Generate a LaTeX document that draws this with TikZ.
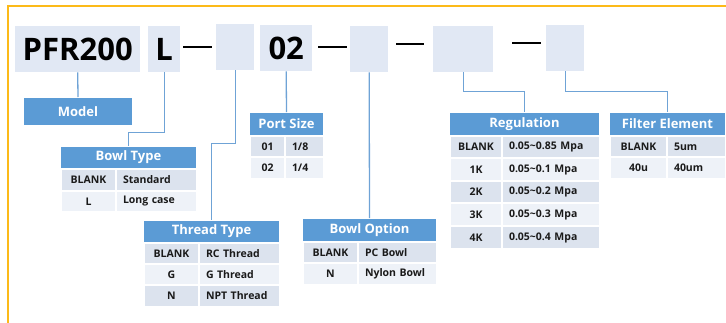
\documentclass[tikz,border=0pt]{standalone}
\usepackage{fontspec}
\setmainfont{Open Sans}
\definecolor{boxfill}{HTML}{E1E8F4}
\definecolor{hdrblue}{HTML}{5B9BD5}
\definecolor{rowdark}{HTML}{DCE3EE}
\definecolor{rowlight}{HTML}{EEF2F8}
\definecolor{linkblue}{HTML}{6FA3D6}
\definecolor{frameor}{rgb}{0.99,0.73,0.10}
\definecolor{txt}{HTML}{1A1A1A}
\tikzset{
  codebox/.style={fill=boxfill, inner sep=0pt, anchor=north west, font=\fontsize{31}{31}\selectfont\bfseries, text=black},
  hdr/.style={fill=hdrblue, draw=white, line width=1pt, inner sep=0pt, anchor=north west, font=\fontsize{13}{13}\selectfont\bfseries, text=white},
  cell/.style={draw=white, line width=2pt, inner sep=0pt, anchor=north west, font=\fontsize{10.5}{10.5}\selectfont\bfseries, text=txt},
  link/.style={draw=linkblue, line width=1.3pt},
  dashln/.style={draw=black, line width=2.3pt},
  framestyle/.style={draw=frameor, line width=2pt},
}
\newcommand\trow[9]{%
  \pgfmathsetmacro\cwa{#3-#2}%
  \pgfmathsetmacro\cwb{#4-#3}%
  \pgfmathsetmacro\cwt{#4-#3-14}%
  \pgfmathsetmacro\cht{#6-#5}%
  \node[cell, fill=#7, minimum width=\cwa pt, minimum height=\cht pt] (#1a) at (#2,#5) {#8};
  \node[cell, fill=#7, minimum width=\cwb pt, minimum height=\cht pt, text width=\cwt pt, inner xsep=7pt, align=left] (#1b) at (#3,#5) {#9};
}
\newcommand\thdr[6]{%
  \pgfmathsetmacro\cwa{#3-#2}%
  \pgfmathsetmacro\cht{#5-#4}%
  \node[hdr, minimum width=\cwa pt, minimum height=\cht pt] (#1) at (#2,#4) {#6};
}
\begin{document}
\begin{tikzpicture}[x=1pt,y=-1pt]
\useasboundingbox (0,0) rectangle (726,322);
% frame
\draw[framestyle] (7.5,323) -- (7.5,5.5) -- (727,5.5);
% top code boxes
\node[codebox, minimum width=125pt, minimum height=46pt] (pfr) at (15,26) {PFR200};
\node[codebox, minimum width=32pt, minimum height=46pt] (lbox) at (148,26) {L};
\node[codebox, minimum width=38pt, minimum height=46pt] (bl1) at (216,24) {};
\node[codebox, minimum width=52pt, minimum height=46pt] (port) at (260,25) {02};
\node[codebox, minimum width=38pt, minimum height=46pt] (bl2) at (350,26) {};
\node[codebox, minimum width=60pt, minimum height=46pt] (bl3) at (433,26) {};
\node[codebox, minimum width=38pt, minimum height=46pt] (bl4) at (546,25) {};
% dashes
\draw[dashln] (183,47) -- (212,47);
\draw[dashln] (318,47) -- (347,47);
\draw[dashln] (396,44) -- (424,44);
\draw[dashln] (512,43) -- (541,43);
% Model
\thdr{model}{23}{132}{97}{125}{Model}
% Bowl Type
\thdr{bowlT}{60}{196}{146}{168}{Bowl Type}
\trow{btA}{60}{115}{196}{168}{190}{rowdark}{BLANK}{Standard}
\trow{btB}{60}{115}{196}{190}{211}{rowlight}{L}{Long case}
% Thread Type
\thdr{thrT}{143}{279}{220}{242}{Thread Type}
\trow{ttA}{143}{198}{279}{242}{263}{rowdark}{BLANK}{RC Thread}
\trow{ttB}{143}{198}{279}{263}{284}{rowlight}{G}{G Thread}
\trow{ttC}{143}{198}{279}{284}{306}{rowdark}{N}{NPT Thread}
% Port Size
\thdr{portT}{249}{323}{112}{135}{Port Size}
\trow{psA}{249}{284}{323}{135}{156}{rowdark}{01}{1/8}
\trow{psB}{249}{284}{323}{156}{178}{rowlight}{02}{1/4}
% Bowl Option
\thdr{boT}{302}{436}{218}{241}{Bowl Option}
\trow{boA}{302}{357}{436}{241}{262}{rowdark}{BLANK}{PC Bowl}
\trow{boB}{302}{357}{436}{262}{284}{rowlight}{N}{Nylon Bowl}
% Regulation
\thdr{regT}{449}{599}{112}{135}{Regulation}
\trow{rgA}{449}{501}{599}{135}{157}{rowdark}{BLANK}{0.05\textasciitilde0.85 Mpa}
\trow{rgB}{449}{501}{599}{157}{180}{rowlight}{1K}{0.05\textasciitilde0.1 Mpa}
\trow{rgC}{449}{501}{599}{180}{202}{rowdark}{2K}{0.05\textasciitilde0.2 Mpa}
\trow{rgD}{449}{501}{599}{202}{225}{rowlight}{3K}{0.05\textasciitilde0.3 Mpa}
\trow{rgE}{449}{501}{599}{225}{248}{rowdark}{4K}{0.05\textasciitilde0.4 Mpa}
% Filter Element
\thdr{filT}{609}{725}{112}{135}{Filter Element}
\trow{feA}{609}{666}{725}{135}{156}{rowdark}{BLANK}{5um}
\trow{feB}{609}{666}{725}{156}{178}{rowlight}{40u}{40um}
% connectors
\draw[link] (pfr.south) -- (model.north);
\draw[link] (lbox.south) -- ++(0,60) -| (bowlT.north);
\draw[link] (bl1.south) -- ++(0,73) -| (thrT.north);
\draw[link] (port.south) -- (portT.north);
\draw[link] (bl2.south) -- (boT.north);
\draw[link] (bl3.south) -- ++(0,19) -| (regT.north);
\draw[link] (bl4.south) -- ++(0,20) -| (filT.north);
\end{tikzpicture}
\end{document}
